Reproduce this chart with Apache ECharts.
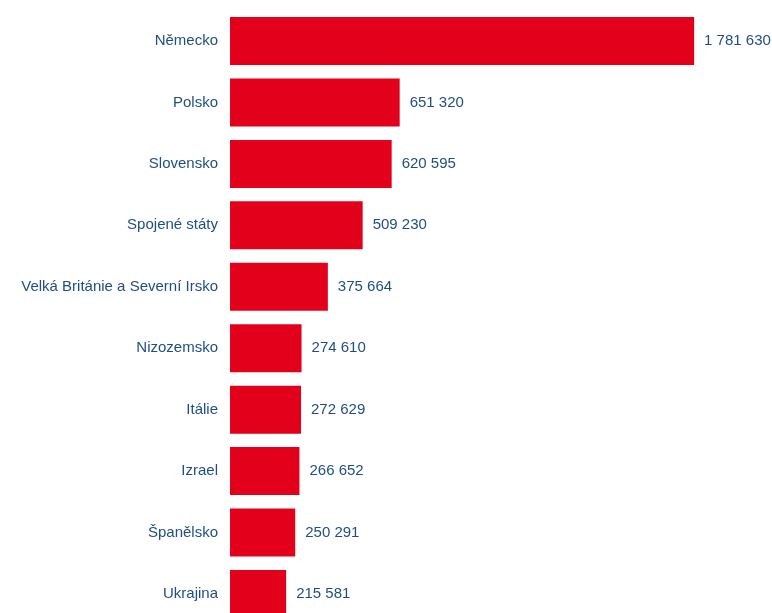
<!DOCTYPE html>
<html>
<head>
<meta charset="utf-8">
<style>
  html, body { margin: 0; padding: 0; background: #ffffff; overflow: hidden; width: 772px; height: 613px; }
  #chart { width: 772px; height: 640px; }
</style>
<script src="https://cdn.jsdelivr.net/npm/echarts@6/dist/echarts.min.js"></script>
</head>
<body>
<div id="chart"></div>
<script>
const categories = [
  "Německo",
  "Polsko",
  "Slovensko",
  "Spojené státy",
  "Velká Británie a Severní Irsko",
  "Nizozemsko",
  "Itálie",
  "Izrael",
  "Španělsko",
  "Ukrajina"
];
const values = [1781630, 651320, 620595, 509230, 375664, 274610, 272629, 266652, 250291, 215581];

function fmt(v) {
  return String(v).replace(/\B(?=(\d{3})+(?!\d))/g, " ");
}

const chart = echarts.init(document.getElementById("chart"), null, { renderer: "canvas" });
chart.setOption({
  backgroundColor: "#ffffff",
  animation: false,
  grid: { left: 230, top: 10.3, width: 521, height: 614.4, containLabel: false },
  xAxis: {
    type: "value",
    min: 0,
    max: 2000000,
    show: false,
    splitLine: { show: false }
  },
  yAxis: {
    type: "category",
    data: categories,
    inverse: true,
    axisLine: { show: false },
    axisTick: { show: false },
    splitLine: { show: false },
    axisLabel: {
      margin: 12,
      color: "#1f4e85",
      fontFamily: "Liberation Sans, Arial, sans-serif",
      fontSize: 15
    }
  },
  series: [{
    type: "bar",
    data: values,
    barWidth: 48,
    itemStyle: { color: "#e2001a" },
    label: {
      show: true,
      position: "right",
      distance: 10,
      color: "#1f4e85",
      fontFamily: "Liberation Sans, Arial, sans-serif",
      fontSize: 15,
      formatter: p => fmt(p.value)
    }
  }]
});
</script>
</body>
</html>
